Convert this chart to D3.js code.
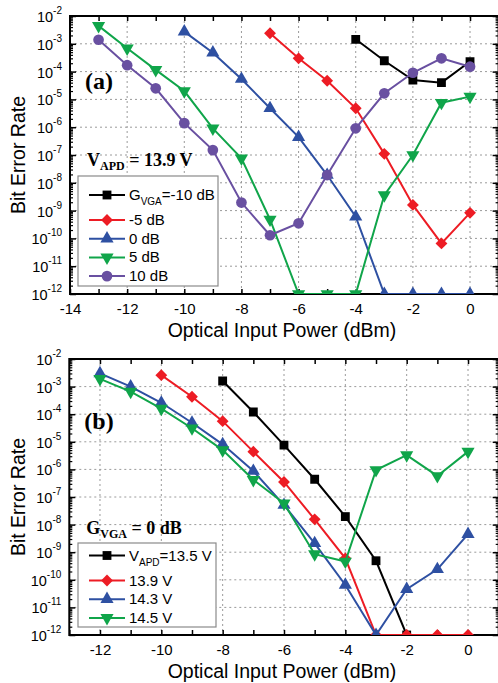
<!DOCTYPE html>
<html>
<head>
<meta charset="utf-8">
<script src="https://cdn.jsdelivr.net/npm/d3@7"></script>
<style>
  body { margin: 0; background: #fff; }
  svg text { font-family: Arial, "Liberation Sans", sans-serif; fill: #000; }
  svg text.bold { font-family: "Times New Roman", "Liberation Serif", serif; font-weight: bold; }
</style>
</head>
<body>
<svg id="chart" width="498" height="683" font-family="Arial, 'Liberation Sans', sans-serif"></svg>
<script>

// ---- panel (a): V_APD = 13.9 V, sweep of VGA gain ----
const gainLabels = ["-10 dB", "-5 dB", "0 dB", "5 dB", "10 dB"];

const xA_gm10 = [-4, -3, -2, -1, 0];
const berA_gm10 = [1.45e-3, 2.45e-4, 5.0e-5, 4.0e-5, 2.3e-4];

const xA_gm5 = [-7, -6, -5, -4, -3, -2, -1, 0];
const berA_gm5 = [2.4e-3, 3.0e-4, 4.7e-5, 4.8e-6, 1.1e-7, 1.6e-9, 6.6e-11, 8.3e-10];

const xA_g0 = [-10, -9, -8, -7, -6, -5, -4, -3, -2, -1, 0];
const berA_g0 = [2.75e-3, 4.8e-4, 5.4e-5, 4.8e-6, 4.4e-7, 1.9e-8, 6.0e-10, 1e-12, 1e-12, 1e-12, 1e-12];

const xA_g5 = [-13, -12, -11, -10, -9, -8, -7, -6, -5, -4, -3, -2, -1, 0];
const berA_g5 = [4.4e-3, 6.9e-4, 1.15e-4, 2.0e-5, 9.1e-7, 7.6e-8, 4.8e-10, 1e-12, 1e-12, 1e-12, 3.6e-9, 1.0e-7, 7.6e-6, 1.26e-5];

const xA_g10 = [-13, -12, -11, -10, -9, -8, -7, -6, -5, -4, -3, -2, -1, 0];
const berA_g10 = [1.4e-3, 1.7e-4, 2.5e-5, 1.4e-6, 1.5e-7, 1.95e-9, 1.3e-10, 3.5e-10, 1.9e-8, 9.1e-7, 1.66e-5, 9.1e-5, 3.0e-4, 1.5e-4];

// ---- panel (b): G_VGA = 0 dB, sweep of APD bias ----
const vapdLabels = ["13.5 V", "13.9 V", "14.3 V", "14.5 V"];

const xB_135 = [-8, -7, -6, -5, -4, -3, -2];
const berB_135 = [1.6e-3, 1.2e-4, 7.6e-6, 4.4e-7, 1.95e-8, 4.9e-10, 1e-12];

const xB_139 = [-10, -9, -8, -7, -6, -5, -4, -3, -2, -1, 0];
const berB_139 = [2.6e-3, 4.3e-4, 5.6e-5, 4.4e-6, 3.5e-7, 1.55e-8, 6.0e-10, 1e-12, 1e-12, 1e-12, 1e-12];

const xB_143 = [-12, -11, -10, -9, -8, -7, -6, -5, -4, -3, -2, -1, 0];
const berB_143 = [3.0e-3, 1.0e-3, 2.6e-4, 4.9e-5, 8.1e-6, 8.7e-7, 5.1e-8, 2.1e-9, 6.5e-11, 1e-12, 4.6e-11, 2.4e-10, 4.5e-9];

const xB_145 = [-12, -11, -10, -9, -8, -7, -6, -5, -4, -3, -2, -1, 0];
const berB_145 = [1.9e-3, 6.6e-4, 1.6e-4, 3.1e-5, 5.0e-6, 4.2e-7, 5.9e-8, 8.5e-10, 4.6e-10, 9.5e-7, 3.3e-6, 5.8e-7, 4.4e-6];

const decades = [-12, -11, -10, -9, -8, -7, -6, -5, -4, -3, -2];

const colors = {
	black: "#000000",
	red: "#ed1c24",
	blue: "#2e50a2",
	green: "#10a54a",
	purple: "#6950a1"
};

const svg = d3.select("#chart");

function zip(xs, ys) {
	return xs.map(function (d, i) { return { x: d, y: ys[i] }; });
}

// square turned 45 degrees reads as the diamond marker
function markerTransform(s) {
	if (s.flip) return " rotate(180)";
	if (s.diamond) return " rotate(45)";
	return "";
}

function drawPanel(p) {

	let x = d3.scaleLinear().domain(p.xDomain).range([p.left, p.right]);
	let y = d3.scaleLog().domain([1e-12, 1e-2]).range([p.bottom, p.top]);

	let g = svg.append("g");

	let clipId = "clip" + p.id;
	g.append("clipPath").attr("id", clipId)
		.append("rect")
		.attr("x", p.left).attr("y", p.top)
		.attr("width", p.right - p.left).attr("height", p.bottom - p.top);

	let xInts = d3.range(Math.ceil(p.xDomain[0]), Math.floor(p.xDomain[1]) + 1);
	let xMajor = xInts.filter(function (d) { return d % 2 === 0 && x(d) > p.left + 1 && x(d) < p.right - 1; });
	let majors = decades.map(function (e) { return Math.pow(10, e); });
	let minors = [];
	decades.slice(0, -1).forEach(function (e) {
		for (let k = 2; k <= 9; k++) minors.push(k * Math.pow(10, e));
	});

	// dotted grid
	g.append("g").selectAll("line").data(xMajor).enter().append("line")
		.attr("x1", function (d) { return x(d); }).attr("x2", function (d) { return x(d); })
		.attr("y1", p.top).attr("y2", p.bottom)
		.attr("stroke", "#9a9a9a").attr("stroke-width", 1).attr("stroke-dasharray", "2,3");
	g.append("g").selectAll("line").data(majors.slice(1, -1)).enter().append("line")
		.attr("x1", p.left).attr("x2", p.right)
		.attr("y1", function (d) { return y(d); }).attr("y2", function (d) { return y(d); })
		.attr("stroke", "#9a9a9a").attr("stroke-width", 1).attr("stroke-dasharray", "2,3");

	// x axes (ticks point inward)
	g.append("g")
		.attr("transform", "translate(0," + p.bottom + ")")
		.call(d3.axisBottom(x).tickValues(xInts).tickSize(-5).tickPadding(9)
			.tickFormat(function (d) { return d % 2 === 0 ? String(d) : ""; }))
		.call(function (a) {
			a.attr("font-family", null);
			a.select(".domain").remove();
			a.selectAll("line").attr("stroke-width", 1.5);
			a.selectAll("text").style("font-size", "15px");
		});
	g.append("g")
		.attr("transform", "translate(0," + p.top + ")")
		.call(d3.axisTop(x).tickValues(xInts).tickSize(-5).tickFormat(""))
		.call(function (a) {
			a.select(".domain").remove();
			a.selectAll("line").attr("stroke-width", 1.5);
		});

	// y axes, left and right, major + minor
	[[d3.axisLeft, p.left], [d3.axisRight, p.right]].forEach(function (ax) {
		g.append("g").attr("transform", "translate(" + ax[1] + ",0)")
			.call(ax[0](y).tickValues(minors).tickSize(-3).tickFormat(""))
			.call(function (a) { a.select(".domain").remove(); a.selectAll("line").attr("stroke-width", 1.2); });
		g.append("g").attr("transform", "translate(" + ax[1] + ",0)")
			.call(ax[0](y).tickValues(majors).tickSize(-6).tickFormat(""))
			.call(function (a) { a.select(".domain").remove(); a.selectAll("line").attr("stroke-width", 1.5); });
	});

	// y tick labels 10^n
	let lab = g.append("g").selectAll("text").data(decades).enter().append("text")
		.attr("x", p.left - 8)
		.attr("y", function (e) { return y(Math.pow(10, e)) + 6; })
		.attr("text-anchor", "end")
		.style("font-size", "14.5px");
	lab.append("tspan").text("10");
	lab.append("tspan").attr("dy", -8).style("font-size", "10px").text(function (e) { return String(e); });

	// frame
	g.append("rect")
		.attr("x", p.left).attr("y", p.top)
		.attr("width", p.right - p.left).attr("height", p.bottom - p.top)
		.attr("fill", "none").attr("stroke", "#000").attr("stroke-width", 2);

	// series
	let line = d3.line().x(function (d) { return x(d.x); }).y(function (d) { return y(d.y); });
	let plot = g.append("g").attr("clip-path", "url(#" + clipId + ")");
	p.series.forEach(function (s) {
		let pts = zip(s.xs, s.ys);
		plot.append("path").datum(pts)
			.attr("d", line).attr("fill", "none")
			.attr("stroke", s.color).attr("stroke-width", 2);
		plot.append("g").selectAll("path").data(pts).enter().append("path")
			.attr("d", d3.symbol().type(s.symbol).size(s.size))
			.attr("transform", function (d) {
				return "translate(" + x(d.x) + "," + y(d.y) + ")" + markerTransform(s);
			})
			.attr("fill", s.color);
	});

	// legend
	let lg = g.append("g");
	lg.append("rect")
		.attr("x", p.legend.x).attr("y", p.legend.y)
		.attr("width", p.legend.w).attr("height", p.legend.h)
		.attr("fill", "#fff").attr("stroke", "#8a8a8a").attr("stroke-width", 1.2);
	p.series.forEach(function (s, i) {
		let ry = p.legend.y + p.legend.first + (i === 0 ? 0 : 25 + (i - 1) * 18.7);
		lg.append("line")
			.attr("x1", p.legend.x + 11).attr("x2", p.legend.x + 47)
			.attr("y1", ry).attr("y2", ry)
			.attr("stroke", s.color).attr("stroke-width", 2);
		lg.append("path")
			.attr("d", d3.symbol().type(s.symbol).size(s.size))
			.attr("transform", "translate(" + (p.legend.x + 29) + "," + ry + ")" + markerTransform(s))
			.attr("fill", s.color);
		let t = lg.append("text")
			.attr("x", p.legend.x + 51).attr("y", ry + 5)
			.style("font-size", "15px");
		if (i === 0) {
			t.append("tspan").text(p.legend.prefix);
			t.append("tspan").attr("dy", 5).style("font-size", "10px").text(p.legend.sub);
			t.append("tspan").attr("dy", -5).text("=" + s.label);
		} else {
			t.text(s.label);
		}
	});

	// annotations
	g.append("text").attr("class", "bold")
		.attr("x", p.left + 15).attr("y", p.tagY)
		.style("font-size", "24px").text(p.tag);
	let note = g.append("text").attr("class", "bold")
		.attr("x", p.left + 17).attr("y", p.note.y)
		.style("font-size", "18px");
	note.append("tspan").text(p.note.main);
	note.append("tspan").attr("dy", 4).style("font-size", "12px").text(p.note.sub);
	note.append("tspan").attr("dy", -4).text(p.note.rest);

	// axis titles
	g.append("text")
		.attr("x", 282).attr("y", p.bottom + 43)
		.attr("text-anchor", "middle")
		.style("font-size", "19.5px")
		.text("Optical Input Power (dBm)");
	g.append("text")
		.attr("transform", "translate(25," + ((p.top + p.bottom) / 2) + ") rotate(-90)")
		.attr("text-anchor", "middle")
		.style("font-size", "19.5px")
		.text("Bit Error Rate");
}

drawPanel({
	id: "a",
	xDomain: [-14, 1], left: 70, right: 498.6, top: 16, bottom: 294,
	series: [
		{ xs: xA_gm10, ys: berA_gm10, color: colors.black, symbol: d3.symbolSquare, size: 78, label: gainLabels[0] },
		{ xs: xA_gm5, ys: berA_gm5, color: colors.red, symbol: d3.symbolSquare, size: 70, diamond: true, label: gainLabels[1] },
		{ xs: xA_g0, ys: berA_g0, color: colors.blue, symbol: d3.symbolTriangle, size: 75, label: gainLabels[2] },
		{ xs: xA_g5, ys: berA_g5, color: colors.green, symbol: d3.symbolTriangle, size: 75, flip: true, label: gainLabels[3] },
		{ xs: xA_g10, ys: berA_g10, color: colors.purple, symbol: d3.symbolCircle, size: 90, label: gainLabels[4] }
	],
	legend: { x: 78, y: 176, w: 140, h: 110, first: 19, prefix: "G", sub: "VGA" },
	tag: "(a)", tagY: 89,
	note: { y: 166, main: "V", sub: "APD", rest: " = 13.9 V" }
});

drawPanel({
	id: "b",
	xDomain: [-13, 1], left: 69.3, right: 498.7, top: 359, bottom: 635,
	series: [
		{ xs: xB_135, ys: berB_135, color: colors.black, symbol: d3.symbolSquare, size: 78, label: vapdLabels[0] },
		{ xs: xB_139, ys: berB_139, color: colors.red, symbol: d3.symbolSquare, size: 70, diamond: true, label: vapdLabels[1] },
		{ xs: xB_143, ys: berB_143, color: colors.blue, symbol: d3.symbolTriangle, size: 75, label: vapdLabels[2] },
		{ xs: xB_145, ys: berB_145, color: colors.green, symbol: d3.symbolTriangle, size: 75, flip: true, label: vapdLabels[3] }
	],
	legend: { x: 78, y: 543, w: 138, h: 84, first: 12.5, prefix: "V", sub: "APD" },
	tag: "(b)", tagY: 429,
	note: { y: 534, main: "G", sub: "VGA", rest: " = 0 dB" }
});

</script>
</body>
</html>
